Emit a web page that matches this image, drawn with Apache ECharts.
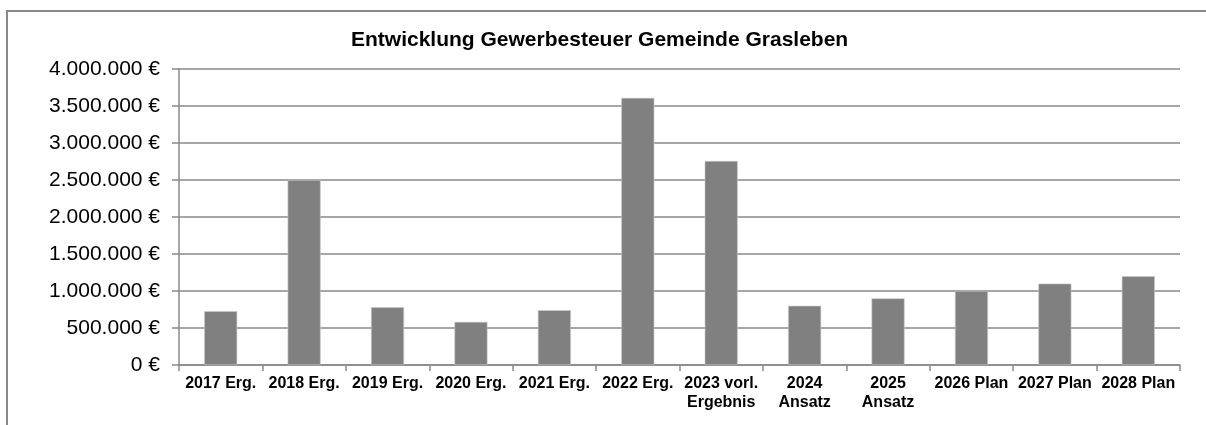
<!DOCTYPE html>
<html>
<head>
<meta charset="utf-8">
<script src="https://cdn.jsdelivr.net/npm/echarts@6/dist/echarts.min.js"></script>
<style>
  html, body { margin: 0; padding: 0; background: #fff; }
  #main { width: 1206px; height: 425px; }
</style>
</head>
<body>
<div id="main"></div>
<script>
const categories = ["2017 Erg.", "2018 Erg.", "2019 Erg.", "2020 Erg.", "2021 Erg.", "2022 Erg.",
  "2023 vorl.\nErgebnis", "2024\nAnsatz", "2025\nAnsatz", "2026 Plan", "2027 Plan", "2028 Plan"];
const gewerbesteuer = [728000, 2500000, 780000, 583000, 740000, 3610000,
  2757000, 800000, 900000, 1000000, 1100000, 1200000];
const titleText = "Entwicklung Gewerbesteuer Gemeinde Grasleben";

const grey = "#898989";
const font = "Liberation Sans, Arial, sans-serif";

// deutsche Tausenderpunkte
function euro(v) {
  return String(v).replace(/\B(?=(\d{3})+(?!\d))/g, ".") + " €";
}

const myChart = echarts.init(document.getElementById("main"));

const option = {
  animation: false,
  backgroundColor: "#fff",
  graphic: [{
    type: "rect",
    shape: { x: 7, y: 11, width: 1400, height: 600 },
    style: { fill: "none", stroke: grey, lineWidth: 2 },
    silent: true
  }],
  title: {
    text: titleText,
    left: 346,
    top: 25,
    textStyle: { fontFamily: font, fontSize: 21, fontWeight: "bold", color: "#000" }
  },
  grid: { left: 179, right: 26, top: 69, bottom: 60, containLabel: false },
  xAxis: {
    type: "category",
    data: categories,
    axisLine: { show: true, lineStyle: { color: grey, width: 1.5 } },
    axisTick: { show: true, length: 6, alignWithLabel: false, lineStyle: { color: grey, width: 1.5 } },
    axisLabel: {
      interval: 0,
      margin: 9,
      fontFamily: font,
      fontSize: 16,
      fontWeight: "bold",
      color: "#000",
      lineHeight: 19
    }
  },
  yAxis: {
    type: "value",
    min: 0,
    max: 4000000,
    interval: 500000,
    axisLine: { show: true, lineStyle: { color: grey, width: 1.5 } },
    axisTick: { show: true, length: 7, lineStyle: { color: grey, width: 1.5 } },
    splitLine: { show: true, lineStyle: { color: grey, width: 1.5 } },
    axisLabel: {
      margin: 19,
      fontFamily: font,
      fontSize: 21,
      color: "#000",
      formatter: euro
    }
  },
  series: [{
    type: "bar",
    data: gewerbesteuer,
    barWidth: 33,
    itemStyle: { color: "#808080", borderColor: "#c8c8c8", borderWidth: 0.6 }
  }]
};

myChart.setOption(option);
</script>
</body>
</html>
